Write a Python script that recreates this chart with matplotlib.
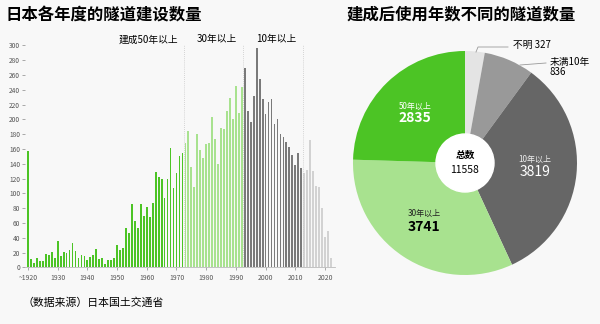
import numpy as np
import matplotlib.pyplot as plt
from matplotlib.patches import Circle

plt.rcParams['font.family'] = ['Noto Sans CJK SC', 'DejaVu Sans']

# tunnels built per fiscal year (first bar = up to 1920)
years = np.arange(1920, 2023)
counts = [157,
          11, 6, 13, 8, 8, 18, 16, 21, 13,
          35, 15, 21, 19, 24, 33, 22, 12, 16, 15,
          10, 14, 16, 25, 11, 13, 5, 10, 10, 13,
          30, 23, 26, 53, 47, 86, 63, 53, 86, 69,
          81, 68, 87, 129, 122, 120, 94, 120, 161, 107,
          128, 151, 154, 168, 184, 135, 109, 180, 159, 148,
          167, 168, 203, 174, 140, 188, 187, 211, 229, 201,
          245, 208, 243, 269, 211, 197, 231, 296, 254, 227,
          207, 224, 228, 194, 201, 180, 176, 170, 162, 152,
          138, 154, 134, 128, 132, 172, 130, 110, 108, 80,
          41, 49, 12]
xtick_years = list(range(1920, 2021, 10))
xtick_labels = ['~1920'] + [str(y) for y in xtick_years[1:]]
period_bounds = [1972.5, 1992.5, 2012.5]
period_labels = ['建成50年以上', '30年以上', '10年以上']

pie_labels = ['不明', '未满10年', '10年以上', '30年以上', '50年以上']
pie_values = [327, 836, 3819, 3741, 2835]
total = 11558

bg = '#f8f8f8'
c_50, c_30, c_10, c_new = '#4cc425', '#a8e28f', '#7a7a7a', '#d2d2d2'

def bar_color(y):
    if y <= 1972:
        return c_50
    if y <= 1992:
        return c_30
    if y <= 2012:
        return c_10
    return c_new

fig = plt.figure(figsize=(6, 3.24), dpi=100, facecolor=bg)

# ---- bar chart ----
ax = fig.add_axes([25/600, 56.7/324, 310.4/600, 225.7/324])
ax.set_facecolor(bg)
ax.bar(years, counts, width=0.6, color=[bar_color(y) for y in years])
ax.set_xlim(1919, 2023.5)
ax.set_ylim(0, 305)
for s in ['top', 'right', 'left']:
    ax.spines[s].set_visible(False)
ax.spines['bottom'].set_color('#bbbbbb')
ax.spines['bottom'].set_linewidth(0.6)
ax.set_yticks(range(0, 301, 20))
ax.set_xticks(xtick_years)
ax.set_xticklabels(xtick_labels)
ax.tick_params(axis='y', labelsize=4.8, labelcolor='#555555', length=2.5,
               width=0.5, color='#888888', pad=1)
ax.tick_params(axis='x', labelsize=4.9, labelcolor='#555555', length=2.5,
               width=0.5, color='#888888', pad=2)
ax.vlines(period_bounds, 0, 300, colors='#c8c8c8', linestyles=(0, (1, 1.5)), lw=0.6)
for b, lab in zip(period_bounds, period_labels):
    ax.text(b - 2, 308, lab, ha='right', va='center', fontsize=7)

fig.text(5/600, 1 - 15.5/324, '日本各年度的隧道建设数量', fontsize=11.8,
         fontweight='bold', va='center')
fig.text(22/600, 1 - 302.7/324, '（数据来源）日本国土交通省', fontsize=7.8, va='center')

# ---- pie chart ----
R = 112.0
ax2 = fig.add_axes([345/600, 41/324, 240/600, 240/324])
ax2.pie(pie_values, colors=['#e4e4e4', '#999999', '#666666', c_30, c_50],
        startangle=90, counterclock=False, radius=1,
        wedgeprops=dict(linewidth=0))
ax2.set_xlim(-120/R, 120/R)
ax2.set_ylim(-120/R, 120/R)
ax2.axis('off')
ax2.add_patch(Circle((0, 0), 29/R, color='white', zorder=3))

def pxy(px, py):
    return (px - 465) / R, (163 - py) / R

ax2.text(*pxy(465, 155), '总数', ha='center', va='center', fontsize=7,
         fontweight='bold', zorder=4)
ax2.text(*pxy(465, 170), f'{total}', ha='center', va='center', fontsize=7.5, zorder=4)

ax2.text(*pxy(415, 106), pie_labels[4], ha='center', va='center', fontsize=5.8, color='white')
ax2.text(*pxy(415, 118), f'{pie_values[4]}', ha='center', va='center', fontsize=10,
         fontweight='bold', color='white')
ax2.text(*pxy(535, 159), pie_labels[2], ha='center', va='center', fontsize=5.8, color='#eeeeee')
ax2.text(*pxy(535, 172), f'{pie_values[2]}', ha='center', va='center', fontsize=10,
         color='white')
ax2.text(*pxy(424, 213), pie_labels[3], ha='center', va='center', fontsize=5.8, color='#222222')
ax2.text(*pxy(424, 227), f'{pie_values[3]}', ha='center', va='center', fontsize=10,
         fontweight='bold', color='black')

# outside labels with leader lines
lx, ly = zip(pxy(476, 52), pxy(478, 47), pxy(508, 47))
ax2.plot(lx, ly, color='#999999', lw=0.6, clip_on=False)
ax2.text(*pxy(513, 45), f'{pie_labels[0]} {pie_values[0]}', ha='left', va='center',
         fontsize=7, clip_on=False)
lx, ly = zip(pxy(520, 65), pxy(546, 63))
ax2.plot(lx, ly, color='#999999', lw=0.6, clip_on=False)
ax2.text(*pxy(550, 67), f'{pie_labels[1]}\n{pie_values[1]}', ha='left', va='center',
         fontsize=7, linespacing=1.0, clip_on=False)

fig.text(347/600, 1 - 15/324, '建成后使用年数不同的隧道数量', fontsize=11.8,
         fontweight='bold', va='center')

fig.savefig('out.png', dpi=100, facecolor=bg)
